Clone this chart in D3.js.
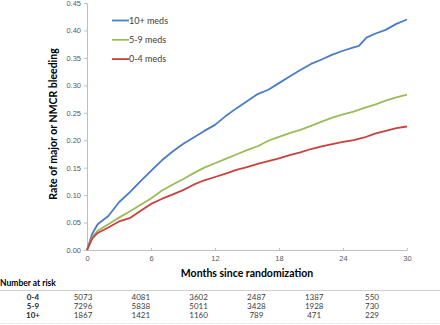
<!DOCTYPE html>
<html>
<head>
<meta charset="utf-8">
<script src="https://cdn.jsdelivr.net/npm/d3@7"></script>
<style>
  body { margin: 0; background: #fff; }
  svg { display: block; font-family: Lato, "Liberation Sans", Arial, sans-serif; }
</style>
</head>
<body>
<div class="chart"></div>
<script>
// months since randomization, and cumulative rate per group
const months10 = [0, 0.5, 1, 2, 3, 4, 5, 6, 7, 8, 9, 10, 11, 12, 13, 14, 15, 16, 17, 18, 19, 20, 21, 22, 23, 24, 25, 25.5, 26.2, 27, 28, 29, 30]
const rate10 = [0, 0.03, 0.047, 0.062, 0.087, 0.105, 0.125, 0.144, 0.163, 0.179, 0.193, 0.205, 0.217, 0.228, 0.244, 0.258, 0.271, 0.284, 0.292, 0.304, 0.316, 0.328, 0.339, 0.347, 0.356, 0.363, 0.369, 0.372, 0.387, 0.394, 0.401, 0.412, 0.42]

const months = [0, 0.5, 1, 2, 3, 4, 5, 6, 7, 8, 9, 10, 11, 12, 13, 14, 15, 16, 17, 18, 19, 20, 21, 22, 23, 24, 25, 26, 27, 28, 29, 30]
const rate59 = [0, 0.024, 0.035, 0.047, 0.059, 0.07, 0.082, 0.094, 0.108, 0.119, 0.129, 0.14, 0.15, 0.158, 0.166, 0.174, 0.182, 0.189, 0.199, 0.206, 0.213, 0.219, 0.226, 0.234, 0.241, 0.247, 0.252, 0.259, 0.265, 0.272, 0.278, 0.283]
const rate04 = [0, 0.021, 0.031, 0.041, 0.052, 0.058, 0.071, 0.084, 0.093, 0.101, 0.109, 0.119, 0.127, 0.133, 0.139, 0.146, 0.151, 0.157, 0.162, 0.167, 0.173, 0.178, 0.184, 0.189, 0.193, 0.197, 0.2, 0.205, 0.212, 0.217, 0.222, 0.225]

const xTicks = [0, 6, 12, 18, 24, 30]
const yTicks = [0, 0.05, 0.1, 0.15, 0.2, 0.25, 0.3, 0.35, 0.4, 0.45]

const riskGroups = ['0-4', '5-9', '10+']
const risk04 = [5073, 4081, 3602, 2487, 1387, 550]
const risk59 = [7296, 5838, 5011, 3428, 1928, 730]
const risk10 = [1867, 1421, 1160, 789, 471, 229]

const series = [
  { name: '10+ meds', x: months10, y: rate10, color: '#4a7cc6' },
  { name: '5-9 meds', x: months, y: rate59, color: '#9bbb59' },
  { name: '0-4 meds', x: months, y: rate04, color: '#c9413d' },
]

const width = 440, height = 325
const svg = d3.select('.chart').append('svg')
  .attr('width', width)
  .attr('height', height)

const x = d3.scaleLinear().domain([0, 30]).range([87, 407])
const y = d3.scaleLinear().domain([0, 0.45]).range([250, 3])
const axisColor = '#bfbfbf'
const labelColor = '#595959'

// y axis
const yAxis = svg.append('g').attr('transform', 'translate(87,0)')
  .call(d3.axisLeft(y).tickValues(yTicks).tickFormat(d3.format('.2f')).tickSize(3).tickPadding(3))
yAxis.select('.domain').attr('stroke', axisColor)
yAxis.selectAll('line').attr('stroke', axisColor)
yAxis.selectAll('text').attr('fill', labelColor).attr('font-size', 7.5)

// x axis
const xAxis = svg.append('g').attr('transform', 'translate(0,250)')
  .call(d3.axisBottom(x).tickValues(xTicks).tickSize(0).tickPadding(6))
xAxis.select('.domain').attr('stroke', axisColor)
xAxis.selectAll('.tick').append('line').attr('y1', -2).attr('y2', 0).attr('stroke', axisColor)
xAxis.selectAll('text').attr('fill', labelColor).attr('font-size', 7.5)

// axis titles
svg.append('text')
  .attr('transform', 'translate(57,124) rotate(-90)')
  .attr('text-anchor', 'middle')
  .attr('font-size', 10.5)
  .attr('font-weight', 'bold')
  .attr('fill', '#000')
  .text('Rate of major or NMCR bleeding')

svg.append('text')
  .attr('x', 247).attr('y', 277)
  .attr('text-anchor', 'middle')
  .attr('font-size', 10.5)
  .attr('font-weight', 'bold')
  .text('Months since randomization')

// lines
const line = d3.line()
series.forEach(s => {
  svg.append('path')
    .datum(s.x.map((m, i) => [x(m), y(s.y[i])]))
    .attr('d', line)
    .attr('fill', 'none')
    .attr('stroke', s.color)
    .attr('stroke-width', 1.8)
    .attr('stroke-linejoin', 'round')
})

// legend
const legend = svg.append('g').selectAll('g')
  .data(series)
  .enter()
  .append('g')
  .attr('transform', (d, i) => `translate(112, ${20.5 + i * 19.3})`)
legend.append('line')
  .attr('x2', 17)
  .attr('stroke', d => d.color)
  .attr('stroke-width', 1.8)
legend.append('text')
  .attr('x', 17)
  .attr('dy', '0.35em')
  .attr('font-size', 9)
  .attr('fill', '#404040')
  .text(d => d.name)

// number at risk table
svg.append('text')
  .attr('x', 0).attr('y', 286)
  .attr('font-size', 8.5)
  .attr('font-weight', 'bold')
  .text('Number at risk')
svg.append('line')
  .attr('x1', 0).attr('x2', 440)
  .attr('y1', 290.5).attr('y2', 290.5)
  .attr('stroke', '#d0d0d0')
svg.append('line')
  .attr('x1', 0).attr('x2', 440)
  .attr('y1', 323.5).attr('y2', 323.5)
  .attr('stroke', '#e0e0e0')
  .attr('stroke-dasharray', '1,1')

const colX = d3.scalePoint().domain(d3.range(6)).range([83, 372])
const riskRows = [risk04, risk59, risk10]
riskRows.forEach((row, r) => {
  const yy = 299.5 + r * 9
  svg.append('text')
    .attr('x', 33).attr('y', yy)
    .attr('text-anchor', 'middle')
    .attr('font-size', 8)
    .attr('font-weight', 'bold')
    .attr('fill', '#262626')
    .text(riskGroups[r])
  svg.append('g').selectAll('text')
    .data(row)
    .enter()
    .append('text')
    .attr('x', (d, i) => colX(i))
    .attr('y', yy)
    .attr('text-anchor', 'middle')
    .attr('font-size', 8)
    .attr('fill', '#404040')
    .text(d => d)
})
</script>
</body>
</html>
